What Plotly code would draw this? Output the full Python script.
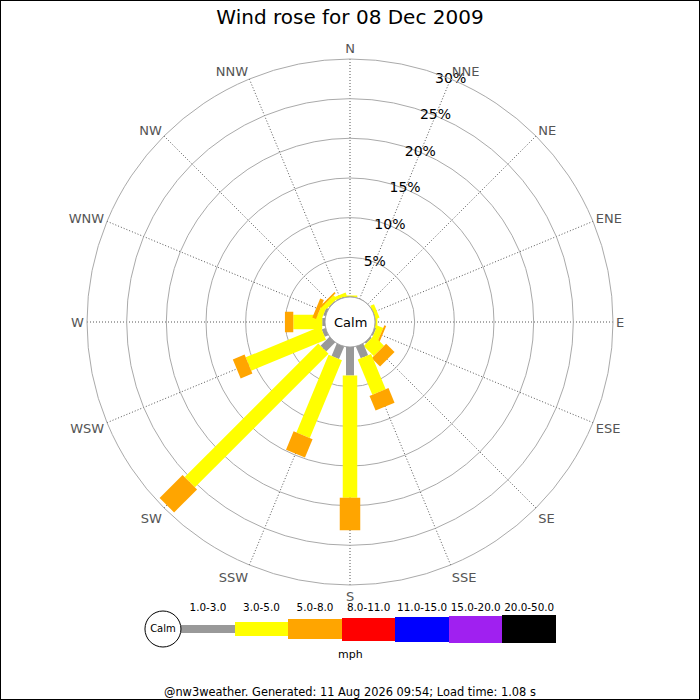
import numpy as np
import plotly.graph_objects as go

# Wind rose for 08 Dec 2009 (nw3weather style)

directions = ["N", "NNE", "NE", "ENE", "E", "ESE", "SE", "SSE",
              "S", "SSW", "SW", "WSW", "W", "WNW", "NW", "NNW"]
dir_angles = [0, 22.5, 45, 67.5, 90, 112.5, 135, 157.5,
              180, 202.5, 225, 247.5, 270, 292.5, 315, 337.5]

speed_bands = ["1.0-3.0", "3.0-5.0", "5.0-8.0", "8.0-11.0",
               "11.0-15.0", "15.0-20.0", "20.0-50.0"]

# percent of time per direction, one list per speed band (mph)
pct_1_3 = [0.0, 0.0, 0.0, 0.0, 0.0, 0.2, 0.2, 1.6,
           3.6, 1.7, 1.6, 0.5, 0.35, 0.3, 0.1, 0.1]
pct_3_5 = [0.2, 0.0, 0.0, 0.5, 0.3, 0.8, 1.8, 4.8,
           15.4, 10.6, 23.8, 10.2, 3.65, 0.65, 0.6, 0.4]
pct_5_8 = [0.0, 0.0, 0.0, 0.0, 0.0, 0.25, 1.5, 2.0,
           4.1, 2.5, 4.1, 1.6, 1.05, 0.5, 0.2, 0.0]
pct_8_11 = [0, 0, 0, 0, 0, 0, 0, 0, 0, 0, 0, 0, 0, 0, 0, 0]
pct_11_15 = [0, 0, 0, 0, 0, 0, 0, 0, 0, 0, 0, 0, 0, 0, 0, 0]
pct_15_20 = [0, 0, 0, 0, 0, 0, 0, 0, 0, 0, 0, 0, 0, 0, 0, 0]
pct_20_50 = [0, 0, 0, 0, 0, 0, 0, 0, 0, 0, 0, 0, 0, 0, 0, 0]

pct_ticks = [5, 10, 15, 20, 25, 30]
pct_labels = ["5%", "10%", "15%", "20%", "25%", "30%"]

# styling
band_colors = ["#999999", "#ffff00", "#ffa500", "#ff0000",
               "#0000ff", "#a020f0", "#000000"]
band_px = [8, 14.5, 20.5, 23, 25, 27, 28.5]
FONT = "DejaVu Sans"

bands = [pct_1_3, pct_3_5, pct_5_8, pct_8_11, pct_11_15, pct_15_20, pct_20_50]

fig = go.Figure()

# rose segments, stacked outwards from the calm circle
for i, ang in enumerate(dir_angles):
    start = 0.0
    for b, vals in enumerate(bands):
        v = vals[i]
        if v <= 0:
            continue
        fig.add_trace(go.Scatterpolar(
            r=[start, start + v], theta=[ang, ang], mode="lines",
            line=dict(color=band_colors[b], width=band_px[b]),
            hoverinfo="skip", showlegend=False))
        start += v

# calm circle edge (r=0 is the hole edge)
ring = np.linspace(0, 360, 121)
fig.add_trace(go.Scatterpolar(
    r=np.zeros(len(ring)), theta=ring, mode="lines",
    line=dict(color="#888888", width=1), hoverinfo="skip", showlegend=False))

# percentage labels along NNE
fig.add_trace(go.Scatterpolar(
    r=pct_ticks, theta=[22.5] * len(pct_ticks), mode="text",
    text=pct_labels, textfont=dict(family=FONT, size=14, color="black"),
    hoverinfo="skip", showlegend=False))

# speed legend below the rose
for b, label in enumerate(speed_bands):
    fig.add_trace(go.Bar(
        x=[b], y=[band_px[b]], base=[-band_px[b] / 2], width=1,
        marker=dict(color=band_colors[b], line=dict(width=0)),
        xaxis="x2", yaxis="y2", hoverinfo="skip", showlegend=False))
fig.add_trace(go.Scatter(
    x=[-0.84], y=[0], mode="markers+text", text=["Calm"],
    textposition="middle center", cliponaxis=False,
    textfont=dict(family=FONT, size=10, color="black"),
    marker=dict(size=36, color="white", line=dict(color="black", width=1)),
    xaxis="x2", yaxis="y2", hoverinfo="skip", showlegend=False))

fig.update_layout(
    width=700, height=700,
    margin=dict(l=0, r=0, t=0, b=0),
    paper_bgcolor="white", plot_bgcolor="white",
    font=dict(family=FONT),
    title=dict(text="Wind rose for 08 Dec 2009", x=0.5, xanchor="center",
               y=0.976, yanchor="middle",
               font=dict(family=FONT, size=20, color="black")),
    polar=dict(
        domain=dict(x=[87 / 700, 613 / 700], y=[115 / 700, 641 / 700]),
        hole=25 / 263,
        bgcolor="white",
        radialaxis=dict(range=[0, 30], tickvals=pct_ticks, showticklabels=False,
                        ticks="", showline=False, gridcolor="#aaaaaa", gridwidth=1),
        angularaxis=dict(rotation=90, direction="clockwise",
                         tickmode="array", tickvals=dir_angles, ticktext=directions,
                         ticks="", tickfont=dict(family=FONT, size=13, color="#555555"),
                         showline=True, linecolor="#aaaaaa", linewidth=1,
                         gridcolor="#555555", griddash="1px,2px", gridwidth=1),
    ),
    xaxis2=dict(domain=[144 / 700, 556 / 700], range=[-1.194, 6.5],
                side="top", tickmode="array", tickvals=list(range(7)),
                ticktext=speed_bands, ticks="", tickangle=0, showgrid=False,
                zeroline=False, showline=False,
                tickfont=dict(family=FONT, size=10.4, color="black"),
                anchor="y2"),
    yaxis2=dict(domain=[56 / 700, 86 / 700], range=[-15, 15], visible=False,
                anchor="x2"),
    bargap=0,
    annotations=[
        dict(text="Calm", x=0.5, y=378 / 700, xref="paper", yref="paper",
             showarrow=False, font=dict(family=FONT, size=13, color="black")),
        dict(text="mph", x=0.5, y=46 / 700, xref="paper", yref="paper",
             yanchor="middle", showarrow=False,
             font=dict(family=FONT, size=11, color="black")),
        dict(text="@nw3weather. Generated: 11 Aug 2026 09:54; Load time: 1.08 s",
             x=0.5, y=8 / 700, xref="paper", yref="paper", yanchor="middle",
             showarrow=False, font=dict(family=FONT, size=11.4, color="black")),
    ],
    shapes=[dict(type="rect", xref="paper", yref="paper", x0=0, y0=0, x1=1, y1=1,
                 line=dict(color="black", width=2))],
)

fig.write_html("out.html", config={"displayModeBar": False},
               post_script="document.body.style.margin='0';")
